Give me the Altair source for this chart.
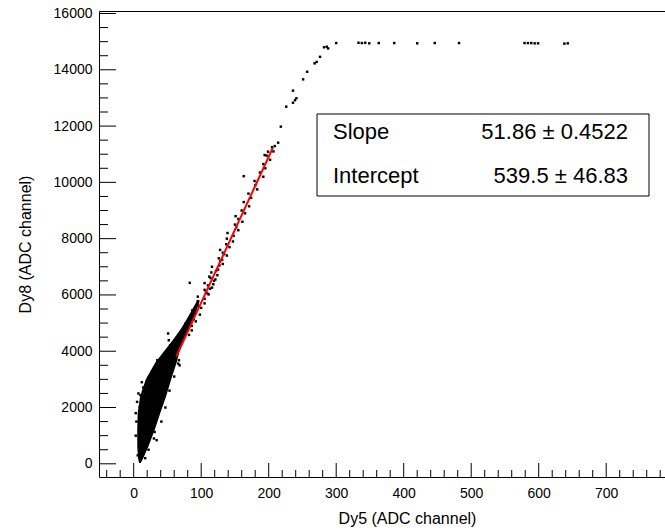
import altair as alt
import pandas as pd

# ---- axis ranges (data units) ----
x_min, x_max = -51.4, 787.1
y_min, y_max = -469, 16089

# ---- scatter points (Dy5, Dy8) ----
# saturated region
sat_x = [300, 333, 338, 343, 349, 363, 386, 420, 446, 482, 579, 584, 589, 594, 599, 638, 643]
sat_y = [14950, 14960, 14950, 14960, 14940, 14950, 14950, 14940, 14950, 14950, 14950, 14950, 14950, 14940, 14940, 14930, 14940]
# bend towards saturation
bend_x = [288, 286, 282, 276, 271, 268, 257, 251, 241, 239, 236, 236, 226, 218, 214, 209, 199, 194]
bend_y = [14760, 14820, 14800, 14460, 14280, 14230, 13930, 13660, 12990, 12920, 12830, 13260, 12690, 11980, 11410, 11290, 11090, 10970]
# points along the linear part
mid_x = [68, 82, 76, 86, 77, 86, 77, 92, 89, 86, 98, 91, 87, 100, 95, 105, 95, 105, 95, 111, 107, 105, 116, 110, 105,
         119, 114, 124, 115, 125, 116, 132, 128, 126, 138, 132, 128, 142, 137, 147, 138, 148, 139, 155, 152, 150, 161,
         155, 151, 165, 160, 171, 163, 174, 170, 183, 180, 179, 192, 187, 195, 192, 202, 197, 207, 205,
         109, 113, 118, 121, 112, 122, 127, 131, 134]
mid_y = [4500, 4580, 4660, 4740, 4820, 4900, 4980, 5060, 5140, 5220, 5300, 5380, 5460, 5540, 5620, 5700, 5780, 5860, 5940,
         6020, 6100, 6180, 6260, 6340, 6420, 6500, 6600, 6700, 6800, 6900, 7000, 7100, 7200, 7300, 7400, 7500, 7600, 7700,
         7800, 7900, 8000, 8100, 8200, 8300, 8400, 8500, 8600, 8700, 8800, 8900, 9000, 9150, 9300, 9450, 9600, 9750, 9900,
         10050, 10200, 10350, 10500, 10650, 10800, 10950, 11100, 11250,
         6060, 6220, 6380, 6550, 6650, 6850, 7050, 7250, 7450]
# stray points around the dense core
out_x = [83, 163, 60, 66, 58, 70, 63, 72, 51, 52, 54, 35, 39, 43, 46,
         26, 19, 14, 10, 9, 11, 16, 24, 29, 31, 34, 66, 67, 68,
         4, 3, 5, 22, 30, 41, 47, 53, 60, 6, 17, 3, 7, 12]
out_y = [6430, 10220, 4100, 4200, 4300, 4350, 4450, 4400, 4630, 4390, 4210, 3680, 3620, 3780, 3940,
         2850, 2760, 2710, 2440, 2020, 1900, 2610, 2970, 2670, 1130, 840, 3560, 3680, 3500,
         1500, 1000, 2200, 500, 900, 1500, 2000, 2600, 3100, 300, 200, 1800, 2500, 2900]

# ---- dense core of the distribution: left / right edge per Dy8 level ----
band_y = [30, 200, 600, 1200, 1800, 2400, 3000, 3600, 4000, 4400, 4800, 5200, 5500, 5800]
band_xl = [8.1, 6.4, 5.3, 5.2, 5.9, 9.5, 18.0, 32.0, 45.0, 58.0, 70.0, 80.0, 87.0, 94.0]
band_xr = [10.4, 14.1, 21.5, 31.1, 39.3, 48.1, 55.6, 63.7, 68.0, 74.0, 82.0, 89.0, 94.0, 98.0]

# ---- linear fit ----
slope, slope_err = 51.86, 0.4522
intercept, intercept_err = 539.5, 46.83
fit_range = [63, 206]

stat_names = ["Slope", "Intercept"]
stat_values = [f"{slope:.2f} \u00b1 {slope_err:.4f}", f"{intercept:.1f} \u00b1 {intercept_err:.2f}"]

# ---- tick values ----
x_major = [0, 100, 200, 300, 400, 500, 600, 700]
x_minor = [v for v in range(-40, 800, 20) if v % 100 != 0]
y_major = [0, 2000, 4000, 6000, 8000, 10000, 12000, 14000, 16000]
y_minor = [v for v in range(500, 16000, 500) if v % 2000 != 0]

W, H = 566, 466
FONT = "Liberation Sans"
XT = "Dy5 (ADC channel)"
YT = "Dy8 (ADC channel)"

xs = alt.Scale(domain=[x_min, x_max], nice=False, zero=False)
ys = alt.Scale(domain=[y_min, y_max], nice=False, zero=False)

band_df = pd.DataFrame({"y": band_y, "xl": band_xl, "xr": band_xr})
pts_df = pd.DataFrame({"x": sat_x + bend_x + mid_x + out_x, "y": sat_y + bend_y + mid_y + out_y})
fit_df = pd.DataFrame({"x": fit_range, "y": [intercept + slope * v for v in fit_range]})

band = alt.Chart(band_df).mark_area(orient="horizontal", color="black", clip=True).encode(
    y=alt.Y("y:Q", scale=ys, title=YT,
            axis=alt.Axis(values=y_major, format="d", ticks=False, domain=False, grid=False,
                          labelFontSize=14, labelPadding=7, labelFont=FONT, labelColor="black",
                          titleFontSize=16, titleFont=FONT, titleFontWeight="normal",
                          titleColor="black", titlePadding=20)),
    x=alt.X("xl:Q", scale=xs, title=XT,
            axis=alt.Axis(values=x_major, format="d", ticks=False, domain=False, grid=False,
                          labelFontSize=14, labelPadding=9, labelFont=FONT, labelColor="black",
                          titleFontSize=16, titleFont=FONT, titleFontWeight="normal",
                          titleColor="black", titleX=308, titleY=46,
                          titleBaseline="alphabetic", titleAlign="center")),
    x2="xr:Q",
)

pts = alt.Chart(pts_df).mark_square(size=6, color="black", opacity=1, clip=True).encode(
    x=alt.X("x:Q", scale=xs, title=XT),
    y=alt.Y("y:Q", scale=ys, title=YT),
)

fit = alt.Chart(fit_df).mark_line(color="#ff0000", strokeWidth=2, clip=True).encode(
    x=alt.X("x:Q", scale=xs, title=XT),
    y=alt.Y("y:Q", scale=ys, title=YT),
)

def xticks(vals, length):
    return alt.Chart(pd.DataFrame({"t": vals})).mark_rule(color="black", strokeWidth=1).encode(
        x=alt.X("t:Q", scale=xs, title=XT), y=alt.value(H), y2=alt.value(H - length))

def yticks(vals, length):
    return alt.Chart(pd.DataFrame({"t": vals})).mark_rule(color="black", strokeWidth=1).encode(
        y=alt.Y("t:Q", scale=ys, title=YT), x=alt.value(0), x2=alt.value(length))

one = pd.DataFrame({"a": [0]})
box = alt.Chart(one).mark_rect(fill="white", stroke="black", strokeWidth=1).encode(
    x=alt.value(218), x2=alt.value(550), y=alt.value(103), y2=alt.value(185))

def stat_text(text, xpos, ypos, align):
    return alt.Chart(one).mark_text(align=align, baseline="middle", fontSize=22, font=FONT,
                                    color="black").encode(
        x=alt.value(xpos), y=alt.value(ypos), text=alt.value(text))

stats = [
    box,
    stat_text(stat_names[0], 234, 121, "left"),
    stat_text(stat_values[0], 529, 121, "right"),
    stat_text(stat_names[1], 234, 165, "left"),
    stat_text(stat_values[1], 529, 165, "right"),
]

chart = alt.layer(
    band, pts, fit,
    xticks(x_minor, 7), xticks(x_major, 14),
    yticks(y_minor, 9), yticks(y_major, 17),
    *stats,
).properties(
    width=W, height=H,
    autosize=alt.AutoSizeParams(type="none"),
    padding={"left": 99, "top": 11, "right": 0, "bottom": 53},
    background="white",
).configure_view(stroke="black", strokeWidth=1)

chart.save("out.html", embed_options={"renderer": "svg", "actions": False})
